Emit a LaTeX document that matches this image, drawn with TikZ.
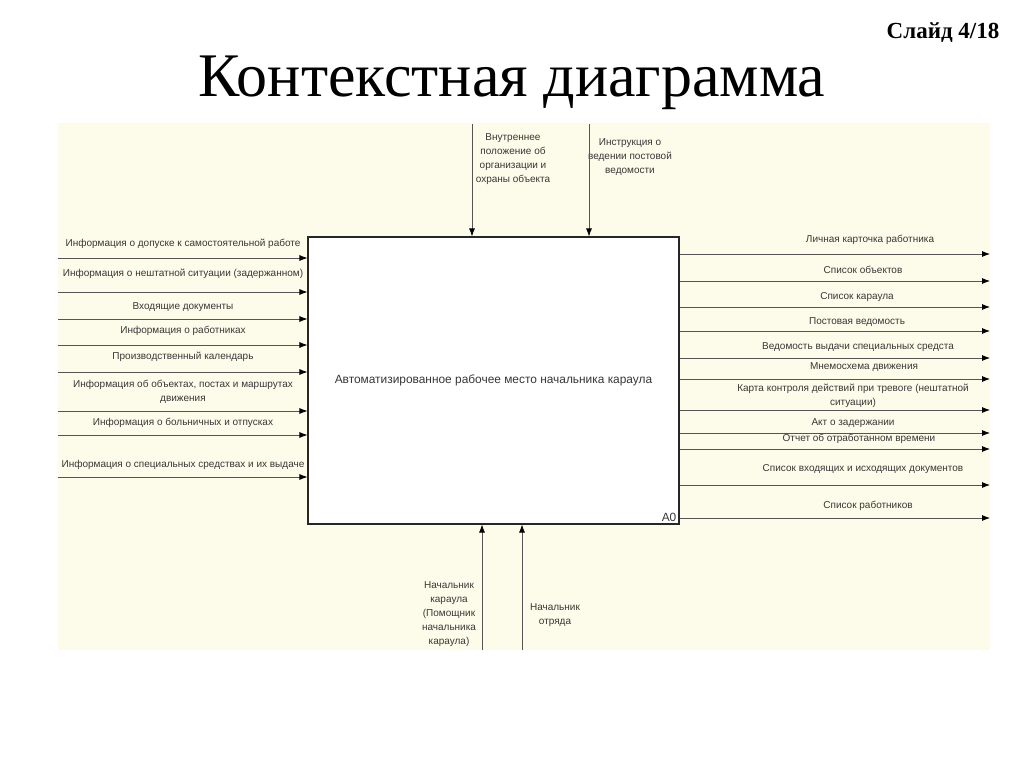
\documentclass[tikz,border=0pt]{standalone}
\usepackage{fontspec}
\setmainfont{Liberation Sans}
\newfontfamily\titlefont{Liberation Serif}
\usetikzlibrary{arrows.meta,positioning}
\definecolor{panel}{RGB}{253,252,234}
\definecolor{wire}{RGB}{85,85,85}
\definecolor{ink}{RGB}{55,55,55}
\tikzset{
    %Define standard arrow tip
    >={Latex[length=8pt,width=6pt,color=black]},
    %Define style for arrow labels
    lbl/.style={
           text=ink,
           font=\fontsize{10}{14}\selectfont,
           inner sep=0pt,
           align=center},
    %Define style for the function box
    func/.style={
           rectangle,
           draw=black!85, line width=1.1pt,
           fill=white,
           text=ink,
           font=\fontsize{11.9}{14}\selectfont,
           minimum width=371pt,
           minimum height=287pt},
    % Define arrow style
    pil/.style={
           ->,
           draw=wire,
           line width=0.8pt}
}

\begin{document}
\begin{tikzpicture}[x=1pt,y=-1pt]
 \useasboundingbox (0,0) rectangle (1024,767);
 \fill[white] (0,0) rectangle (1024,767);
 \fill[panel] (58,123) rectangle (990,650);
 % titles
 \node[font=\titlefont\fontsize{62}{66}\selectfont, anchor=base] (title) at (512,97) {Контекстная диаграмма};
 \node[font=\titlefont\bfseries\fontsize{23}{26}\selectfont, anchor=base] (slide) at (943,39) {Слайд 4/18};
 % the function box
 \node[func] (a0) at (493.5,380.5) {Автоматизированное рабочее место начальника караула};
 \node[lbl, font=\fontsize{11.9}{14}\selectfont, anchor=south east, inner sep=1pt] (a0name)
   at ([xshift=-2pt,yshift=2pt]a0.south east) {A0};
 % inputs
 \coordinate (i1) at (58,258);
 \coordinate (i2) at (58,292);
 \coordinate (i3) at (58,319);
 \coordinate (i4) at (58,345);
 \coordinate (i5) at (58,372);
 \coordinate (i6) at (58,411);
 \coordinate (i7) at (58,435);
 \coordinate (i8) at (58,477);
 \node[lbl] (li1) at (183,244) {Информация о допуске к самостоятельной работе};
 \node[lbl] (li2) at (183,274) {Информация о нештатной ситуации (задержанном)};
 \node[lbl] (li3) at (183,307) {Входящие документы};
 \node[lbl] (li4) at (183,331) {Информация о работниках};
 \node[lbl] (li5) at (183,357) {Производственный календарь};
 \node[lbl] (li6) at (183,392) {Информация об объектах, постах и маршрутах\\движения};
 \node[lbl] (li7) at (183,423) {Информация о больничных и отпусках};
 \node[lbl] (li8) at (183,465) {Информация о специальных средствах и их выдаче};
 \draw[pil] (i1) -- (i1 -| a0.west);
 \draw[pil] (i2) -- (i2 -| a0.west);
 \draw[pil] (i3) -- (i3 -| a0.west);
 \draw[pil] (i4) -- (i4 -| a0.west);
 \draw[pil] (i5) -- (i5 -| a0.west);
 \draw[pil] (i6) -- (i6 -| a0.west);
 \draw[pil] (i7) -- (i7 -| a0.west);
 \draw[pil] (i8) -- (i8 -| a0.west);
 % outputs
 \coordinate (o1) at (990,254);
 \coordinate (o2) at (990,281);
 \coordinate (o3) at (990,307);
 \coordinate (o4) at (990,331);
 \coordinate (o5) at (990,358);
 \coordinate (o6) at (990,379);
 \coordinate (o7) at (990,410);
 \coordinate (o8) at (990,433);
 \coordinate (o9) at (990,449);
 \coordinate (o10) at (990,485);
 \coordinate (o11) at (990,518);
 \node[lbl] (lo1) at (870,240) {Личная карточка работника};
 \node[lbl] (lo2) at (863,270) {Список объектов};
 \node[lbl] (lo3) at (857,297) {Список караула};
 \node[lbl] (lo4) at (857,322) {Постовая ведомость};
 \node[lbl] (lo5) at (858,347) {Ведомость выдачи специальных средста};
 \node[lbl] (lo6) at (864,367) {Мнемосхема движения};
 \node[lbl] (lo7) at (853,396) {Карта контроля действий при тревоге (нештатной\\ситуации)};
 \node[lbl] (lo8) at (853,423) {Акт о задержании};
 \node[lbl] (lo9) at (859,439) {Отчет об отработанном времени};
 \node[lbl] (lo10) at (863,469) {Список входящих и исходящих документов};
 \node[lbl] (lo11) at (868,506) {Список работников};
 \draw[pil] (o1 -| a0.east) -- (o1);
 \draw[pil] (o2 -| a0.east) -- (o2);
 \draw[pil] (o3 -| a0.east) -- (o3);
 \draw[pil] (o4 -| a0.east) -- (o4);
 \draw[pil] (o5 -| a0.east) -- (o5);
 \draw[pil] (o6 -| a0.east) -- (o6);
 \draw[pil] (o7 -| a0.east) -- (o7);
 \draw[pil] (o8 -| a0.east) -- (o8);
 \draw[pil] (o9 -| a0.east) -- (o9);
 \draw[pil] (o10 -| a0.east) -- (o10);
 \draw[pil] (o11 -| a0.east) -- (o11);
 % controls
 \coordinate (c1) at (472,124);
 \coordinate (c2) at (589,124);
 \node[lbl] (lc1) at (513,159) {Внутреннее\\положение об\\организации и\\охраны объекта};
 \node[lbl] (lc2) at (630,157) {Инструкция о\\ведении постовой\\ведомости};
 \draw[pil] (c1) -- (c1 |- a0.north);
 \draw[pil] (c2) -- (c2 |- a0.north);
 % mechanisms
 \coordinate (m1) at (482,650);
 \coordinate (m2) at (522,650);
 \node[lbl] (lm1) at (449,614) {Начальник\\караула\\(Помощник\\начальника\\караула)};
 \node[lbl] (lm2) at (555,615) {Начальник\\отряда};
 \draw[pil] (m1) -- (m1 |- a0.south);
 \draw[pil] (m2) -- (m2 |- a0.south);
\end{tikzpicture}
\end{document}
